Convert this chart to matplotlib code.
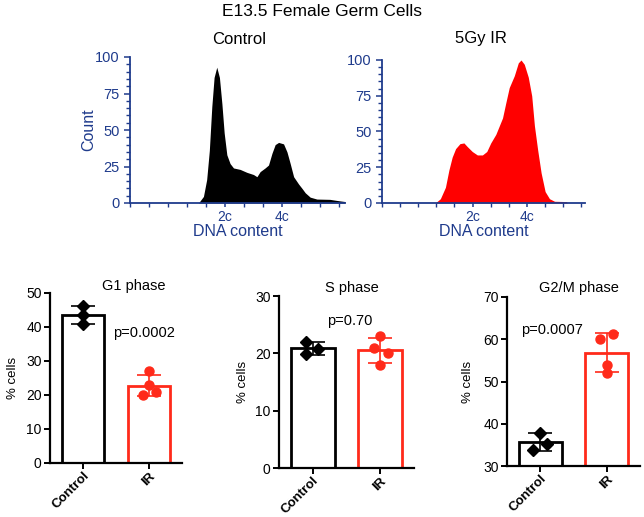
import numpy as np
import matplotlib
matplotlib.use("Agg")
import matplotlib.pyplot as plt
from matplotlib.ticker import MultipleLocator, FixedLocator

plt.rcParams['font.family'] = ['Liberation Sans', 'DejaVu Sans']

# ---- data: DNA content histograms (x in channel ticks, y = count) ----
ctrl_x = [3.6, 3.86, 4.03, 4.17, 4.3, 4.42, 4.56, 4.7, 4.83, 4.95, 5.09, 5.26, 5.44,
          5.79, 6.14, 6.49, 6.67, 6.84, 7.1, 7.28, 7.46, 7.63, 7.81, 8.07, 8.25, 8.42,
          8.6, 8.86, 9.04, 9.21, 9.47, 9.82, 10.5, 11.0, 11.3]
ctrl_y = [0, 4.5, 16, 36, 66, 86, 93, 86, 68, 48, 33, 27, 24,
          23, 21, 19.5, 18, 21.5, 24, 26, 34, 40, 41.5, 40.5, 35, 27,
          18, 13, 10, 7, 4, 2.7, 2.5, 1.5, 1]
ir_x = [2.94, 3.22, 3.5, 3.69, 3.87, 4.06, 4.3, 4.52, 4.7, 4.98, 5.26, 5.54, 5.78,
        6.0, 6.28, 6.65, 6.83, 7.02, 7.3, 7.52, 7.67, 7.85, 8.07, 8.26, 8.41, 8.59,
        8.78, 9.0, 9.24, 9.52, 10.17, 10.22]
ir_y = [0, 3, 11, 23, 32, 38, 41.5, 42, 39.5, 36, 33.6, 33.6, 36,
        42, 48, 59.5, 70, 80.7, 89, 98, 100, 97, 88, 75, 54, 37,
        21, 8, 3, 1.2, 1, 0]
dna_ticks = [5, 8]
dna_labels = ['2c', '4c']

# ---- data: % cells per phase ----
groups = ['Control', 'IR']
g1_ctrl = [46.2, 43.6, 41.0]
g1_ir = [27.2, 22.9, 20.0, 21.0]
s_ctrl = [22.0, 20.8, 19.8]
s_ir = [23.1, 20.9, 20.1, 17.9]
g2m_ctrl = [37.9, 35.2, 33.9]
g2m_ir = [61.3, 60.1, 54.0, 52.0]
p_values = ['p=0.0002', 'p=0.70', 'p=0.0007']
phase_titles = ['G1 phase', 'S phase', 'G2/M phase']

W, H = 644, 517
fig = plt.figure(figsize=(W / 100, H / 100), dpi=100)
NAVY = '#1f3b8c'
RED = '#ff2a1a'


def rect(l, r, t, b):
    return [l / W, 1 - b / H, (r - l) / W, (b - t) / H]


def ftext(x, y, s, **kw):
    fig.text(x / W, 1 - y / H, s, ha='center', va='center', **kw)


ftext(322, 12, 'E13.5 Female Germ Cells', fontsize=12.5)


def hist_panel(pos, x, y, color, xmax, ylabel):
    ax = fig.add_axes(pos)
    ax.fill_between(x, y, 0, color=color, lw=0)
    ax.set_xlim(0, xmax)
    ax.set_ylim(0, 100)
    for s in ['top', 'right']:
        ax.spines[s].set_visible(False)
    for s in ['left', 'bottom']:
        ax.spines[s].set_color(NAVY)
        ax.spines[s].set_linewidth(1.3)
    ax.yaxis.set_major_locator(MultipleLocator(25))
    ax.yaxis.set_minor_locator(MultipleLocator(5))
    ax.xaxis.set_major_locator(FixedLocator(dna_ticks))
    ax.set_xticklabels(dna_labels)
    ax.xaxis.set_minor_locator(MultipleLocator(1))
    ax.tick_params(colors=NAVY, labelsize=10.5, width=1.1, length=4)
    ax.tick_params(which='minor', colors=NAVY, width=1.0, length=3)
    ax.tick_params(axis='x', which='major', length=3, pad=2, labelsize=10)
    ax.set_xlabel('DNA content', color=NAVY, fontsize=11.5, labelpad=0)
    if ylabel:
        ax.set_ylabel('Count', color=NAVY, fontsize=11.5)
        ax.yaxis.set_label_coords(-34 / (pos[2] * W), 0.5)
    return ax


hist_panel(rect(130, 345, 57, 203), ctrl_x, ctrl_y, 'black', 11.3, True)
hist_panel(rect(382, 585, 60, 203), ir_x, ir_y, '#ff0000', 11.2, False)
ftext(239, 39, 'Control', fontsize=12)
ftext(481, 39, '5Gy IR', fontsize=12)

# bar panels
panels = [
    (rect(50, 182, 293, 463), g1_ctrl, g1_ir, (0, 50),
     [0, 0, 0], [0, 0, -0.094, 0.1], (134, 286), (144, 333), 19),
    (rect(279, 414, 296, 468), s_ctrl, s_ir, (0, 30),
     [-0.1, 0.075, -0.1], [0, -0.09, 0.11, 0], (352, 288), (350, 321), 249),
    (rect(507, 640, 297, 466), g2m_ctrl, g2m_ir, (30, 70),
     [0, 0.094, -0.11], [0.1, -0.094, 0, 0], (579, 288), (552, 330), 474),
]

for i, (pos, c_vals, r_vals, ylim, c_jit, r_jit, tpos, ppos, ylx) in enumerate(panels):
    ax = fig.add_axes(pos)
    means = [np.mean(c_vals), np.mean(r_vals)]
    sds = [np.std(c_vals, ddof=1), np.std(r_vals, ddof=1)]
    cols = ['black', RED]
    ax.bar([0, 1], [m - ylim[0] for m in means], bottom=ylim[0], width=0.65,
           facecolor='white', edgecolor=cols, linewidth=2.0, zorder=2)
    for j, (vals, jit, col, mk) in enumerate([(c_vals, c_jit, 'black', 'D'),
                                               (r_vals, r_jit, RED, 'o')]):
        ax.errorbar(j, means[j], yerr=sds[j], color=col, capsize=8.5,
                    elinewidth=1.2, capthick=1.2, zorder=3)
        ax.plot(np.array(jit) + j, vals, linestyle='none', marker=mk,
                color=col, markersize=6 if mk == 'D' else 6.5, zorder=4,
                clip_on=False)
    ax.set_xlim(-0.5, 1.5)
    ax.set_ylim(*ylim)
    ax.yaxis.set_major_locator(MultipleLocator(10))
    for s in ['top', 'right']:
        ax.spines[s].set_visible(False)
    for s in ['left', 'bottom']:
        ax.spines[s].set_linewidth(1.6)
    ax.set_xticks([0, 1])
    ax.set_xticklabels(groups, rotation=45, ha='right', rotation_mode='anchor',
                       fontweight='bold', fontsize=9.5)
    ax.tick_params(axis='y', labelsize=10, width=1.4, length=4, pad=2)
    ax.tick_params(axis='x', width=1.4, length=4, pad=1)
    ax.set_ylabel('% cells', fontsize=9.5)
    ax.yaxis.set_label_coords((ylx - pos[0] * W) / (pos[2] * W), 0.5)
    ftext(*tpos, phase_titles[i], fontsize=10.5)
    ftext(*ppos, p_values[i], fontsize=10.5)

fig.savefig('out.png', dpi=100)
